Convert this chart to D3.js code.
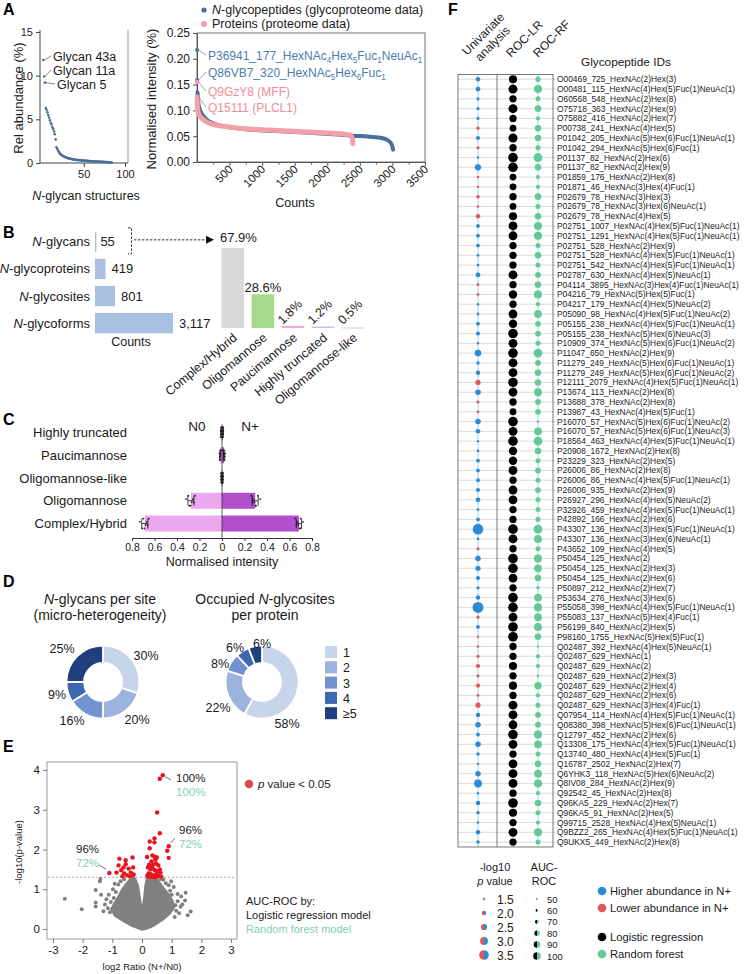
<!DOCTYPE html>
<html><head><meta charset="utf-8">
<script src="https://cdn.jsdelivr.net/npm/d3@7"></script>
<style>body{margin:0;background:#fff}</style>
</head><body><svg id="c" width="745" height="974"></svg>
<script>
// ================= DATA =================
// Panel A (left): relative abundance of N-glycan structures (ranked)
const glycanAbund = [11.8, 9.9, 9.2, 6.3, 6.1, 5.8, 5.5, 5.2, 4.9, 4.6, 4.4, 4.1, 3.9, 3.6, 3.3, 2.7, 1.8, 1.6, 1.4, 1.25, 1.1, 1.0, 0.92, 0.85, 0.8, 0.75, 0.7, 0.66, 0.62, 0.58, 0.55, 0.52, 0.5, 0.48, 0.46, 0.44, 0.42, 0.4, 0.38, 0.37, 0.36, 0.35, 0.34, 0.33, 0.32, 0.31, 0.3, 0.29, 0.28, 0.27, 0.26, 0.25, 0.245, 0.24, 0.23, 0.225, 0.22, 0.21, 0.205, 0.2, 0.195, 0.19, 0.18, 0.175, 0.17, 0.165, 0.16, 0.155, 0.15, 0.145, 0.14, 0.135, 0.13, 0.125, 0.12, 0.115, 0.11, 0.1, 0.09, 0.08, 0.07, 0.06, 0.05, 0.04];
const glycanNamed = ["Glycan 43a", "Glycan 11a", "Glycan 5"];
// Panel A (right): ranked normalised intensity
const glycoCounts = [1, 2, 8, 20, 40, 70, 110, 160, 230, 320, 450, 650, 900, 1200, 1500, 1800, 2100, 2400, 2650, 2850, 2930, 2980, 3000, 3010];
const glycoValues = [0.217, 0.159, 0.135, 0.115, 0.103, 0.094, 0.087, 0.081, 0.076, 0.072, 0.068, 0.065, 0.062, 0.06, 0.058, 0.056, 0.054, 0.051, 0.049, 0.046, 0.042, 0.036, 0.03, 0.024];
const protCounts = [1, 2, 6, 15, 35, 70, 130, 220, 350, 550, 800, 1100, 1400, 1700, 2000, 2250, 2350, 2385, 2392];
const protValues = [0.155, 0.126, 0.108, 0.099, 0.091, 0.085, 0.079, 0.074, 0.07, 0.067, 0.064, 0.062, 0.06, 0.058, 0.056, 0.054, 0.052, 0.046, 0.036];
const countTicks = [500, 1000, 1500, 2000, 2500, 3000, 3500];
const annotA = ["P36941_177_HexNAc~4~Hex~5~Fuc~1~NeuAc~1~", "Q86VB7_320_HexNAc~5~Hex~6~Fuc~1~", "Q9GzY8 (MFF)", "Q15111 (PLCL1)"];
// Panel B
const countCats = ["*N*-glycans", "*N*-glycoproteins", "*N*-glycosites", "*N*-glycoforms"];
const countVals = [55, 419, 801, 3117];
const countLabels = ["55", "419", "801", "3,117"];
const typeCats = ["Complex/Hybrid", "Oligomannose", "Paucimannose", "Highly truncated", "Oligomannose-like"];
const typePct = [67.9, 28.6, 1.8, 1.2, 0.5];
// Panel C
const catsC = ["Highly truncated", "Paucimannose", "Oligomannose-like", "Oligomannose", "Complex/Hybrid"];
const sampN0 = [[0.004,0.008,0.01,0.012,0.006,0.009],[0.01,0.015,0.02,0.018,0.012,0.022],[0.004,0.006,0.008,0.005,0.007,0.009],[0.24,0.26,0.27,0.28,0.3,0.32,0.25,0.29],[0.65,0.67,0.68,0.69,0.7,0.73,0.66,0.71]];
const sampNp = [[0.005,0.008,0.011,0.007,0.01,0.012],[0.012,0.018,0.024,0.02,0.015,0.026],[0.004,0.007,0.009,0.006,0.008,0.01],[0.26,0.28,0.29,0.3,0.32,0.34,0.27,0.3],[0.65,0.67,0.68,0.69,0.7,0.72,0.66,0.7]];
// Panel D
const siteCats = ["1", "2", "3", "4", "≥5"];
const glycansPerSite = [30, 20, 16, 9, 25];
const sitesPerProtein = [58, 22, 8, 6, 6];
// Panel E: volcano
const volcanoCoreLeft = [[0,0],[-0.3,0.08],[-0.6,0.2],[-0.9,0.34],[-1.02,0.5],[-0.92,0.64],[-0.8,0.78],[-0.68,0.96],[-0.55,1.1],[-0.42,1.22],[-0.24,1.26],[-0.15,1.08],[-0.09,0.8],[-0.04,0.55],[0,0.45]];
const volcanoCoreRight = [[0,0.45],[0.04,0.55],[0.09,0.8],[0.13,1.1],[0.18,1.28],[0.48,1.28],[0.6,1.14],[0.74,1.0],[0.9,0.85],[1.02,0.7],[1.07,0.55],[0.93,0.4],[0.7,0.25],[0.4,0.1],[0.15,0.02],[0,0]];
const volcanoGray = [[-2.6,0.76],[-2.03,0.5],[-1.56,0.98],[-1.38,0.86],[-1.56,0.67],[-1.56,0.57],[-1.4,1.26],[-1.42,1.2],[-1.2,0.75],[-1.25,0.62],[-1.15,0.52],[-1.05,0.68],[-1.12,0.86],[-0.98,1.0],[-0.88,0.93],[-0.92,1.14],[-0.8,1.12],[-0.72,1.2],[-0.95,0.78],[-1.3,0.45],[-0.6,1.25],[-1.08,0.42],[1.47,0.91],[1.45,0.72],[1.64,0.44],[1.54,0.35],[1.3,0.56],[1.2,0.7],[1.12,0.6],[1.07,1.06],[0.95,0.96],[1.0,0.86],[0.9,1.1],[0.8,1.15],[0.72,1.24],[0.85,0.76],[1.15,0.46],[1.25,0.4],[1.36,0.62],[0.64,1.26],[1.2,0.88],[1.32,0.82],[0.98,1.2],[1.1,0.3],[-0.3,1.3],[0.3,1.33]];
const volcanoRed = [[0.6,3.78],[0.7,3.87],[0.51,2.93],[0.6,2.41],[0.42,2.28],[0.42,2.18],[0.26,2.2],[0.26,2.03],[0.9,2.08],[0.85,1.97],[0.9,1.79],[0.17,1.81],[0.35,1.85],[0.42,1.82],[0.45,1.75],[0.5,1.8],[0.32,1.7],[0.38,1.62],[0.48,1.65],[0.55,1.6],[0.2,1.55],[0.28,1.5],[0.36,1.52],[0.44,1.48],[0.52,1.45],[0.62,1.42],[0.22,1.4],[0.3,1.38],[0.4,1.35],[0.48,1.38],[0.56,1.33],[0.65,1.32],[0.18,1.34],[0.25,1.32],[0.35,1.31],[0.45,1.31],[0.6,1.5],[0.33,1.58],[0.24,1.62],[-1.1,1.41],[-0.76,1.77],[-0.55,1.73],[-0.32,1.8],[-0.55,1.63],[-0.79,1.6],[-0.7,1.48],[-0.6,1.4],[-0.45,1.52],[-0.38,1.42],[-0.28,1.37],[-0.5,1.35],[-0.66,1.33],[-0.4,1.32],[-0.86,1.42],[-0.62,1.55],[-0.3,1.55]];
// Panel F
const peptideIds = ["O00469_725_HexNAc(2)Hex(3)","O00481_115_HexNAc(4)Hex(5)Fuc(1)NeuAc(1)","O60568_548_HexNAc(2)Hex(8)","O75718_363_HexNAc(2)Hex(9)","O75882_416_HexNAc(2)Hex(7)","P00738_241_HexNAc(4)Hex(5)","P01042_205_HexNAc(5)Hex(6)Fuc(1)NeuAc(1)","P01042_294_HexNAc(5)Hex(6)Fuc(1)","P01137_82_HexNAc(2)Hex(6)","P01137_82_HexNAc(2)Hex(9)","P01859_176_HexNAc(2)Hex(8)","P01871_46_HexNAc(3)Hex(4)Fuc(1)","P02679_78_HexNAc(3)Hex(3)","P02679_78_HexNAc(3)Hex(6)NeuAc(1)","P02679_78_HexNAc(4)Hex(5)","P02751_1007_HexNAc(4)Hex(5)Fuc(1)NeuAc(1)","P02751_1291_HexNAc(4)Hex(5)Fuc(1)NeuAc(1)","P02751_528_HexNAc(2)Hex(9)","P02751_528_HexNAc(4)Hex(5)Fuc(1)NeuAc(1)","P02751_542_HexNAc(4)Hex(5)Fuc(1)NeuAc(1)","P02787_630_HexNAc(4)Hex(5)NeuAc(1)","P04114_3895_HexNAc(3)Hex(4)Fuc(1)NeuAc(1)","P04216_79_HexNAc(5)Hex(5)Fuc(1)","P04217_179_HexNAc(4)Hex(5)NeuAc(2)","P05090_98_HexNAc(4)Hex(5)Fuc(1)NeuAc(2)","P05155_238_HexNAc(4)Hex(5)Fuc(1)NeuAc(1)","P05155_238_HexNAc(5)Hex(6)NeuAc(3)","P10909_374_HexNAc(5)Hex(6)Fuc(1)NeuAc(2)","P11047_650_HexNAc(2)Hex(9)","P11279_249_HexNAc(5)Hex(6)Fuc(1)NeuAc(1)","P11279_249_HexNAc(5)Hex(6)Fuc(1)NeuAc(2)","P12111_2079_HexNAc(4)Hex(5)Fuc(1)NeuAc(1)","P13674_113_HexNAc(2)Hex(8)","P13688_378_HexNAc(2)Hex(8)","P13987_43_HexNAc(4)Hex(5)Fuc(1)","P16070_57_HexNAc(5)Hex(6)Fuc(1)NeuAc(2)","P16070_57_HexNAc(5)Hex(6)Fuc(1)NeuAc(3)","P18564_463_HexNAc(4)Hex(5)Fuc(1)NeuAc(1)","P20908_1672_HexNAc(2)Hex(8)","P23229_323_HexNAc(2)Hex(5)","P26006_86_HexNAc(2)Hex(8)","P26006_86_HexNAc(4)Hex(5)Fuc(1)NeuAc(1)","P26006_935_HexNAc(2)Hex(9)","P26927_296_HexNAc(4)Hex(5)NeuAc(2)","P32926_459_HexNAc(4)Hex(5)Fuc(1)NeuAc(1)","P42892_166_HexNAc(2)Hex(6)","P43307_136_HexNAc(3)Hex(5)Fuc(1)NeuAc(1)","P43307_136_HexNAc(3)Hex(6)NeuAc(1)","P43652_109_HexNAc(4)Hex(5)","P50454_125_HexNAc(2)","P50454_125_HexNAc(2)Hex(3)","P50454_125_HexNAc(2)Hex(6)","P50897_212_HexNAc(2)Hex(7)","P53634_276_HexNAc(3)Hex(6)","P55058_398_HexNAc(4)Hex(5)Fuc(1)NeuAc(1)","P55083_137_HexNAc(5)Hex(4)Fuc(1)","P56199_840_HexNAc(2)Hex(5)","P98160_1755_HexNAc(5)Hex(5)Fuc(1)","Q02487_392_HexNAc(4)Hex(5)NeuAc(1)","Q02487_629_HexNAc(1)","Q02487_629_HexNAc(2)","Q02487_629_HexNAc(2)Hex(3)","Q02487_629_HexNAc(2)Hex(4)","Q02487_629_HexNAc(2)Hex(6)","Q02487_629_HexNAc(3)Hex(4)Fuc(1)","Q07954_114_HexNAc(4)Hex(5)Fuc(1)NeuAc(1)","Q08380_398_HexNAc(5)Hex(6)Fuc(1)NeuAc(1)","Q12797_452_HexNAc(2)Hex(6)","Q13308_175_HexNAc(4)Hex(5)Fuc(1)NeuAc(1)","Q13740_480_HexNAc(4)Hex(5)Fuc(1)","Q16787_2502_HexNAc(2)Hex(7)","Q6YHK3_118_HexNAc(5)Hex(6)NeuAc(2)","Q8IV08_284_HexNAc(2)Hex(9)","Q92542_45_HexNAc(2)Hex(8)","Q96KA5_229_HexNAc(2)Hex(7)","Q96KA5_91_HexNAc(2)Hex(5)","Q99715_2528_HexNAc(4)Hex(5)NeuAc(1)","Q9BZZ2_265_HexNAc(4)Hex(5)Fuc(1)NeuAc(1)","Q9UKX5_449_HexNAc(2)Hex(8)"];
// 1 = higher abundance in N+, -1 = lower abundance in N+
const univDirection = [1,1,1,1,1,-1,1,-1,1,1,-1,-1,-1,-1,-1,1,1,1,1,1,1,-1,-1,1,1,1,1,1,1,1,1,-1,1,-1,-1,1,1,1,1,1,1,1,1,1,1,1,1,1,-1,1,1,1,1,1,1,-1,1,-1,-1,-1,-1,-1,-1,-1,-1,1,1,1,1,1,1,1,1,1,1,1,1,1,1];
const univNegLogP = [2.0,2.1,1.6,1.6,1.6,1.6,1.9,1.6,1.4,2.5,1.4,1.4,1.7,1.4,2.0,1.8,1.8,1.8,1.5,1.5,2.1,1.5,1.5,1.4,1.5,1.8,1.9,1.4,2.6,1.7,2.0,2.2,2.3,1.6,1.5,2.3,2.0,1.4,1.5,1.8,1.8,1.8,1.9,2.1,1.5,1.8,3.8,1.5,1.6,2.3,2.2,1.9,1.6,2.0,3.9,1.6,1.8,1.4,1.4,1.6,1.9,1.6,1.9,1.5,2.2,2.0,2.3,1.8,2.3,1.7,1.4,2.3,3.0,1.4,2.0,1.7,1.4,2.0,1.7];
const aucLR = [90,96,85,96,85,82,96,85,100,100,82,82,85,82,90,95,95,85,85,85,95,85,92,85,95,92,100,95,100,95,95,100,95,85,82,100,95,100,92,92,95,85,95,95,85,85,100,95,85,100,100,95,85,100,100,95,100,100,85,85,90,85,90,85,95,95,95,100,95,85,95,95,95,85,100,90,85,95,85];
const aucRF = [72,90,70,80,65,80,80,70,95,80,65,65,80,70,80,90,90,70,80,70,75,80,90,65,88,75,75,70,95,75,80,80,88,75,75,55,88,95,80,70,75,70,75,70,70,70,95,88,70,90,88,80,60,88,90,88,88,80,52,65,65,55,85,65,70,75,75,90,88,70,80,88,90,65,80,70,65,90,70];
const pLegend = [1.5, 2.0, 2.5, 3.0, 3.5];
const aucLegend = [50, 60, 70, 80, 90, 100];

// ================= SETUP =================
const svg = d3.select("#c").style("font-family", '"Liberation Sans", Arial, Helvetica, sans-serif');
svg.append("rect").attr("width", 745).attr("height", 974).attr("fill", "#fff");

function txt(sel, x, y, s, o = {}) {
  const size = o.size || 12;
  const t = sel.append("text").attr("x", x).attr("y", y)
    .attr("font-size", size).attr("fill", o.fill || "#1a1a1a")
    .attr("text-anchor", o.anchor || "start");
  if (o.weight) t.attr("font-weight", o.weight);
  if (o.rotate != null) t.attr("transform", `rotate(${o.rotate},${x},${y})`);
  let shifted = false;
  String(s).split(/(\*[^*]+\*|~[^~]+~)/g).forEach(seg => {
    if (!seg) return;
    const sp = t.append("tspan");
    if (seg[0] === "*") {
      sp.text(seg.slice(1, -1)).attr("font-style", "italic");
      if (shifted) { sp.attr("dy", -3); shifted = false; }
    } else if (seg[0] === "~") {
      sp.text(seg.slice(1, -1)).attr("font-size", size * 0.68);
      if (!shifted) { sp.attr("dy", 3); shifted = true; }
    } else {
      sp.text(seg);
      if (shifted) { sp.attr("dy", -3); shifted = false; }
    }
  });
  return t;
}
function styleAxis(g, col) {
  g.selectAll("path,line").attr("stroke", col || "#444");
  g.selectAll("text").attr("fill", "#1a1a1a").style("font-family", "inherit");
}
const plain = d => String(d);
// Panel letters
[["A",3,15],["B",3,238],["C",3,425],["D",3,587],["E",3,752],["F",448,15]].forEach(d =>
  txt(svg, d[1], d[2], d[0], {size: 16, weight: "bold", fill: "#000"}));

// ================= PANEL A LEFT =================
{
  const g = svg.append("g");
  const x = d3.scaleLinear().domain([-3, 100]).range([40, 125]);
  const y = d3.scaleLinear().domain([0, 15]).range([163, 32]);
  g.append("line").attr("x1", 128).attr("x2", 128).attr("y1", 30).attr("y2", 163).attr("stroke", "#999");
  const ay = g.append("g").attr("transform", "translate(40,0)").call(d3.axisLeft(y).tickValues([0,5,10,15]).tickFormat(plain).tickSize(4).tickSizeOuter(0));
  ay.select(".domain").attr("d", "M0,163V30");
  ay.selectAll("text").attr("font-size", 11);
  styleAxis(ay);
  const ax = g.append("g").attr("transform", "translate(0,163)").call(d3.axisBottom(x).tickValues([50,100]).tickFormat(plain).tickSize(4).tickSizeOuter(0));
  ax.select(".domain").attr("d", "M40,0H128");
  ax.selectAll("text").attr("font-size", 11);
  styleAxis(ax);
  g.selectAll("circle.gl").data(glycanAbund).join("circle").attr("class","gl")
    .attr("cx", (d, i) => x(i + 1)).attr("cy", d => y(d)).attr("r", 1.3).attr("fill", "#4b6f99");
  const lab = [[53,61],[53,75],[57,89]];
  glycanNamed.forEach((n, i) => {
    const px = x(i + 1), py = y(glycanAbund[i]);
    g.append("line").attr("x1", px + 1).attr("y1", py).attr("x2", lab[i][0] - 2).attr("y2", lab[i][1] - 5)
      .attr("stroke", "#555").attr("stroke-width", 0.7);
    txt(g, lab[i][0], lab[i][1], n, {size: 12.5});
  });
  txt(g, 23, 98, "Rel abundance (%)", {size: 13, anchor: "middle", rotate: -90});
  txt(g, 86, 200, "*N*-glycan structures", {size: 12.5, anchor: "middle"});
}

// ================= PANEL A RIGHT =================
{
  const g = svg.append("g");
  const x = d3.scaleLinear().domain([0, 3500]).range([197, 425]);
  const y = d3.scaleLinear().domain([0, 0.25]).range([162, 33]);
  g.append("rect").attr("x", 197).attr("y", 33).attr("width", 228).attr("height", 129).attr("fill", "none").attr("stroke", "#777");
  const ay = g.append("g").attr("transform", "translate(197,0)").call(d3.axisLeft(y).tickValues([0,0.05,0.1,0.15,0.2,0.25]).tickFormat(d3.format(".2f")).tickSize(4).tickSizeOuter(0));
  ay.selectAll("text").attr("font-size", 12);
  styleAxis(ay, "#555");
  const ax = g.append("g").attr("transform", "translate(0,162)").call(d3.axisBottom(x).tickValues(countTicks).tickFormat("").tickSize(4).tickSizeOuter(0));
  styleAxis(ax, "#555");
  countTicks.forEach(t => txt(g, x(t) + 4, 170, t, {size: 11.5, anchor: "end", rotate: -45}));
  g.append("g").attr("transform", "translate(0,162)").call(d3.axisBottom(x).tickValues(countTicks.map(t => t - 250)).tickSize(2.5).tickFormat(""))
    .call(s => { s.select(".domain").remove(); s.selectAll("line").attr("stroke", "#555"); });
  const blue = "#46709e", pink = "#f3a0a7";
  const gl = glycoCounts.map((c, i) => [c, glycoValues[i]]);
  const pr = protCounts.map((c, i) => [c, protValues[i]]);
  const line = d3.line().x(d => x(d[0])).y(d => y(d[1])).curve(d3.curveMonotoneX);
  g.append("path").attr("d", line(gl.slice(2))).attr("fill", "none").attr("stroke", blue).attr("stroke-width", 4).attr("stroke-linecap", "round");
  g.append("path").attr("d", line(pr.slice(1))).attr("fill", "none").attr("stroke", pink).attr("stroke-width", 5).attr("stroke-linecap", "round");
  gl.slice(0, 2).forEach(d => g.append("circle").attr("cx", x(d[0])).attr("cy", y(d[1])).attr("r", 2).attr("fill", blue));
  pr.slice(0, 1).forEach(d => g.append("circle").attr("cx", x(d[0])).attr("cy", y(d[1])).attr("r", 2.2).attr("fill", pink));
  const pts = [gl[0], gl[1], pr[0], pr[1]];
  const cols = ["#4d7cb0", "#4d7cb0", "#f08c94", "#f08c94"];
  const base = [60, 77, 96, 112];
  annotA.forEach((s, i) => {
    g.append("line").attr("x1", x(pts[i][0]) + 1.5).attr("y1", y(pts[i][1])).attr("x2", 206).attr("y2", base[i] - 5)
      .attr("stroke", "#777").attr("stroke-width", 0.7);
    txt(g, 208, base[i], s, {size: 12, fill: cols[i]});
  });
  g.append("circle").attr("cx", 204).attr("cy", 10).attr("r", 2.6).attr("fill", blue);
  txt(g, 212, 14, "*N*-glycopeptides (glycoproteome data)", {size: 12.5});
  g.append("circle").attr("cx", 204).attr("cy", 24).attr("r", 3).attr("fill", pink);
  txt(g, 212, 28, "Proteins (proteome data)", {size: 12.5});
  txt(g, 156, 99, "Normalised intensity (%)", {size: 13, anchor: "middle", rotate: -90});
  txt(g, 295, 207, "Counts", {size: 12.5, anchor: "middle"});
}

// ================= PANEL B =================
{
  const g = svg.append("g");
  const y = d3.scaleBand().domain(countCats).range([229, 336]).paddingInner(0.25).paddingOuter(0.1);
  const x = d3.scaleLinear().domain([0, 3117]).range([95, 173]);
  g.selectAll("rect.cb").data(countVals).join("rect").attr("class", "cb")
    .attr("x", x(0)).attr("y", (d, i) => y(countCats[i])).attr("width", d => x(d) - x(0)).attr("height", y.bandwidth())
    .attr("fill", "#aac0e3");
  countCats.forEach((c, i) => {
    const cy = y(c) + y.bandwidth() / 2;
    txt(g, 90, cy + 4.5, c, {size: 13, anchor: "end"});
    txt(g, x(countVals[i]) + (i === 0 ? 4 : 6), cy + 4.5, countLabels[i], {size: 13});
  });
  txt(g, 131, 346, "Counts", {size: 12.5, anchor: "middle"});
  const cy0 = y(countCats[0]) + y.bandwidth() / 2;
  g.append("path").attr("d", `M128,${cy0 - 14}H131.5V${cy0 + 12}H128`).attr("fill", "none").attr("stroke", "#333").attr("stroke-dasharray", "2.5,1.5");
  g.append("line").attr("x1", 134).attr("x2", 207).attr("y1", cy0 - 2).attr("y2", cy0 - 2).attr("stroke", "#333").attr("stroke-dasharray", "2.5,1.5");
  g.append("path").attr("d", `M206,${cy0 - 6}L214,${cy0 - 2}L206,${cy0 + 2}Z`).attr("fill", "#111");
  const xc = d3.scaleBand().domain(typeCats).range([220, 366]).paddingInner(0.25).paddingOuter(0.05);
  const yc = d3.scaleLinear().domain([0, 67.9]).range([328, 248]);
  const colsB = ["#d9d9d9", "#a8da8c", "#efa9dc", "#cdbde8", "#ddd5f0"];
  g.selectAll("rect.tb").data(typePct).join("rect").attr("class", "tb")
    .attr("x", (d, i) => xc(typeCats[i])).attr("y", d => yc(d)).attr("width", xc.bandwidth())
    .attr("height", d => Math.max(1.2, 328 - yc(d))).attr("fill", (d, i) => colsB[i]);
  typeCats.forEach((c, i) => {
    const cx = xc(c) + xc.bandwidth() / 2;
    txt(g, cx + 5, 339, c, {size: 12.5, anchor: "end", rotate: -40});
    const lab = typePct[i].toFixed(1) + "%";
    if (i === 0) txt(g, 220, 242, lab, {size: 13});
    else if (i === 1) txt(g, cx, yc(typePct[i]) - 2, lab, {size: 13, anchor: "middle"});
    else txt(g, xc(c) + 1, 325, lab, {size: 12.5, rotate: -45});
  });
}

// ================= PANEL C =================
{
  const g = svg.append("g");
  const x = d3.scaleLinear().domain([-0.8, 0.8]).range([132, 312]);
  const y = d3.scaleBand().domain(catsC).range([422, 534]).paddingInner(0.28).paddingOuter(0.1);
  const bh = 16;
  catsC.forEach((c, i) => {
    const cy = y(c) + y.bandwidth() / 2;
    const m0 = d3.mean(sampN0[i]), m1 = d3.mean(sampNp[i]);
    const s0 = d3.deviation(sampN0[i]), s1 = d3.deviation(sampNp[i]);
    g.append("rect").attr("x", x(-m0)).attr("y", cy - bh / 2).attr("width", x(0) - x(-m0)).attr("height", bh).attr("fill", "#eba8ee");
    g.append("rect").attr("x", x(0)).attr("y", cy - bh / 2).attr("width", x(m1) - x(0)).attr("height", bh).attr("fill", "#b24fcd");
    txt(g, 127, cy + 4.5, c, {size: 13, anchor: "end"});
    [[sampN0[i], -1, m0, s0], [sampNp[i], 1, m1, s1]].forEach(([arr, sg, m, s]) => {
      arr.forEach((v, k) => g.append("circle").attr("cx", x(sg * v)).attr("cy", cy - 5 + (k % 4) * 3.3).attr("r", 0.9).attr("fill", "#222"));
      g.append("line").attr("x1", x(sg * (m - s))).attr("x2", x(sg * (m + s))).attr("y1", cy).attr("y2", cy).attr("stroke", "#111").attr("stroke-width", 0.8);
      [m - s, m + s].forEach(e => g.append("line").attr("x1", x(sg * e)).attr("x2", x(sg * e)).attr("y1", cy - 5).attr("y2", cy + 5).attr("stroke", "#111").attr("stroke-width", 0.8));
    });
  });
  g.append("line").attr("x1", x(0)).attr("x2", x(0)).attr("y1", 426).attr("y2", 538).attr("stroke", "#333").attr("stroke-width", 0.8);
  const ax = g.append("g").attr("transform", "translate(0,538)").call(d3.axisBottom(x).tickValues(d3.range(-0.8, 0.81, 0.2)).tickFormat(d => { const a = Math.abs(d); return a < 1e-9 ? "0" : d3.format(".1f")(a); }).tickSize(3).tickSizeOuter(0));
  ax.selectAll("text").attr("font-size", 10.5);
  styleAxis(ax, "#333");
  txt(g, 222, 566, "Normalised intensity", {size: 12.5, anchor: "middle"});
  txt(g, 197, 431, "N0", {size: 13.5, anchor: "middle"});
  txt(g, 250, 431, "N+", {size: 13.5, anchor: "middle"});
}

// ================= PANEL D =================
{
  const g = svg.append("g");
  const cols = ["#c7d5eb", "#9cb4dd", "#7293cf", "#3d67b1", "#1f3f7d"];
  const pie = d3.pie().sort(null).value(d => d);
  const arc = d3.arc().innerRadius(19).outerRadius(36.5);
  const labOff = [
    [[43,-27],[34,37],[-31,38],[-46,12],[-41,-34]],
    [[25,41],[-44,25],[-42,-19],[-27,-35],[0,-39]]
  ];
  [[glycansPerSite, 103], [sitesPerProtein, 262]].forEach(([vals, cx], k) => {
    const dg = g.append("g").attr("transform", `translate(${cx},682)`);
    dg.selectAll("path").data(pie(vals)).join("path").attr("d", arc).attr("fill", (d, i) => cols[i]).attr("stroke", "#fff").attr("stroke-width", 1.8);
    vals.forEach((v, i) => txt(dg, labOff[k][i][0], labOff[k][i][1] + 4.5, v + "%", {size: 12.5, anchor: "middle"}));
  });
  txt(g, 100, 604, "*N*-glycans per site", {size: 14, anchor: "middle"});
  txt(g, 100, 620, "(micro-heterogeneity)", {size: 14, anchor: "middle"});
  txt(g, 265, 604, "Occupied *N*-glycosites", {size: 14, anchor: "middle"});
  txt(g, 265, 620, "per protein", {size: 14, anchor: "middle"});
  siteCats.forEach((c, i) => {
    g.append("rect").attr("x", 325).attr("y", 646 + i * 15.3).attr("width", 12).attr("height", 12).attr("fill", cols[i]);
    txt(g, 343, 657 + i * 15.3, c, {size: 12.5});
  });
}

// ================= PANEL E =================
{
  const g = svg.append("g");
  const x = d3.scaleLinear().domain([-3.2, 3.2]).range([47, 237]);
  const y = d3.scaleLinear().domain([-0.25, 4.2]).range([939, 762]);
  g.append("rect").attr("x", 47).attr("y", 762).attr("width", 190).attr("height", 177).attr("fill", "none").attr("stroke", "#999");
  const ay = g.append("g").attr("transform", "translate(47,0)").call(d3.axisLeft(y).tickValues([0,1,2,3,4]).tickFormat(plain).tickSize(4).tickSizeOuter(0));
  ay.select(".domain").remove(); ay.selectAll("text").attr("font-size", 11.5); styleAxis(ay, "#777");
  const ax = g.append("g").attr("transform", "translate(0,939)").call(d3.axisBottom(x).tickValues([-3,-2,-1,0,1,2,3]).tickFormat(plain).tickSize(4).tickSizeOuter(0));
  ax.select(".domain").remove(); ax.selectAll("text").attr("font-size", 11.5); styleAxis(ax, "#777");
  g.append("line").attr("x1", 48).attr("x2", 236).attr("y1", y(1.3)).attr("y2", y(1.3)).attr("stroke", "#aaa").attr("stroke-dasharray", "2,2");
  const poly = d3.line().x(d => x(d[0])).y(d => y(d[1])).curve(d3.curveLinearClosed);
  [volcanoCoreLeft, volcanoCoreRight].forEach(p => g.append("path").attr("d", poly(p)).attr("fill", "#808080").attr("stroke", "#808080").attr("stroke-width", 3).attr("stroke-linejoin", "round"));
  g.selectAll("circle.gr").data(volcanoGray).join("circle").attr("class", "gr").attr("cx", d => x(d[0])).attr("cy", d => y(d[1])).attr("r", 2).attr("fill", "#808080");
  g.selectAll("circle.rd").data(volcanoRed).join("circle").attr("class", "rd").attr("cx", d => x(d[0])).attr("cy", d => y(d[1])).attr("r", 2.2).attr("fill", "#e8141c");
  const green = "#7fd1ae";
  g.append("line").attr("x1", 165).attr("y1", 776.7).attr("x2", 171).attr("y2", 780).attr("stroke", "#333").attr("stroke-width", 0.7);
  txt(g, 176, 782, "100%", {size: 11.5}); txt(g, 176, 796, "100%", {size: 11.5, fill: green});
  g.append("line").attr("x1", 170.7).attr("y1", 843).attr("x2", 175).attr("y2", 838).attr("stroke", "#333").attr("stroke-width", 0.7);
  txt(g, 179, 834, "96%", {size: 11.5}); txt(g, 179, 848, "72%", {size: 11.5, fill: green});
  g.append("line").attr("x1", 99).attr("y1", 865).attr("x2", 106).attr("y2", 869).attr("stroke", "#333").attr("stroke-width", 0.7);
  txt(g, 76, 853, "96%", {size: 11.5}); txt(g, 76, 867, "72%", {size: 11.5, fill: green});
  txt(g, 142, 970, "log2 Ratio (N+/N0)", {size: 9.5, anchor: "middle"});
  txt(g, 22, 852, "-log10(p-value)", {size: 9.5, anchor: "middle", rotate: -90});
  g.append("circle").attr("cx", 249).attr("cy", 784).attr("r", 4.2).attr("fill", "#e0454a");
  txt(g, 258, 788, "*p* value < 0.05", {size: 11.5});
  txt(g, 246, 905, "AUC-ROC by:", {size: 11});
  txt(g, 246, 919, "Logistic regression model", {size: 11});
  txt(g, 246, 933, "Random forest model", {size: 11, fill: green});
}

// ================= PANEL F =================
{
  const g = svg.append("g");
  const yF = d3.scaleBand().domain(d3.range(peptideIds.length)).range([74.4, 847]);
  const ry = i => yF(i) + yF.bandwidth() / 2;
  const rP = d3.scaleLinear().domain([1.5, 3.5]).range([1.4, 4.8]);
  const rA = d3.scaleLinear().domain([50, 100]).range([1, 4.8]);
  const xU = 478, xL = 513, xR = 538;
  const blue = "#2d8bd6", red = "#e0585d", green = "#63c995";
  peptideIds.forEach((id, i) => g.append("line").attr("x1", 458).attr("x2", 556).attr("y1", ry(i)).attr("y2", ry(i)).attr("stroke", "#c4c4c4").attr("stroke-width", 0.6));
  g.append("line").attr("x1", xU).attr("x2", xU).attr("y1", 74.4).attr("y2", 847).attr("stroke", "#bfe0f5").attr("stroke-width", 1.4);
  g.append("line").attr("x1", xL).attr("x2", xL).attr("y1", 74.4).attr("y2", 847).attr("stroke", "#dcdcdc").attr("stroke-width", 1);
  g.append("line").attr("x1", xR).attr("x2", xR).attr("y1", 74.4).attr("y2", 847).attr("stroke", "#c3ecd7").attr("stroke-width", 1.4);
  g.append("rect").attr("x", 458).attr("y", 74.4).attr("width", 95).attr("height", 772.6).attr("fill", "none").attr("stroke", "#555").attr("stroke-width", 0.8);
  g.append("line").attr("x1", 497).attr("x2", 497).attr("y1", 74.4).attr("y2", 847).attr("stroke", "#555").attr("stroke-width", 0.8);
  peptideIds.forEach((id, i) => {
    const cy = ry(i);
    g.append("circle").attr("cx", xU).attr("cy", cy).attr("r", rP(univNegLogP[i])).attr("fill", univDirection[i] > 0 ? blue : red);
    g.append("circle").attr("cx", xL).attr("cy", cy).attr("r", rA(aucLR[i])).attr("fill", "#000");
    g.append("circle").attr("cx", xR).attr("cy", cy).attr("r", rA(aucRF[i])).attr("fill", green);
    txt(g, 557, cy + 3, id, {size: 8.4, fill: "#222"});
  });
  txt(g, 467, 56, "Univariate", {size: 12, rotate: -45});
  txt(g, 480, 62, "analysis", {size: 12, rotate: -45});
  txt(g, 511, 58, "ROC-LR", {size: 12, rotate: -45});
  txt(g, 538, 58, "ROC-RF", {size: 12, rotate: -45});
  txt(g, 581, 66, "Glycopeptide IDs", {size: 11.8});
  txt(g, 495, 871, "-log10", {size: 11, anchor: "middle"});
  txt(g, 495, 885, "*p* value", {size: 11, anchor: "middle"});
  txt(g, 544, 871, "AUC-", {size: 11, anchor: "middle"});
  txt(g, 544, 885, "ROC", {size: 11, anchor: "middle"});
  const half = (r, a0, a1) => d3.arc().innerRadius(0).outerRadius(r).startAngle(a0).endAngle(a1)();
  pLegend.forEach((p, i) => {
    const cy = 899 + i * 14;
    const lg = g.append("g").attr("transform", `translate(484,${cy})`);
    lg.append("path").attr("d", half(rP(p), Math.PI, 2 * Math.PI)).attr("fill", i === 0 ? "#8a9bb5" : red);
    lg.append("path").attr("d", half(rP(p), 0, Math.PI)).attr("fill", i === 0 ? "#8a9bb5" : blue);
    txt(g, 497, cy + 4.5, p.toFixed(1), {size: 12});
  });
  aucLegend.forEach((a, i) => {
    const cy = 899 + i * 11.4;
    const lg = g.append("g").attr("transform", `translate(537,${cy})`);
    lg.append("path").attr("d", half(rA(a) * 0.8, Math.PI, 2 * Math.PI)).attr("fill", "#000");
    lg.append("path").attr("d", half(rA(a) * 0.8, 0, Math.PI)).attr("fill", green);
    txt(g, 547, cy + 3.5, a, {size: 9.5});
  });
  [["Higher abundance in N+", blue, 891], ["Lower abundance in N+", red, 908], ["Logistic regression", "#000", 937], ["Random forest", green, 954]].forEach(d => {
    g.append("circle").attr("cx", 602).attr("cy", d[2]).attr("r", 4.3).attr("fill", d[1]);
    txt(g, 610, d[2] + 4, d[0], {size: 11.2});
  });
}
</script></body></html>
